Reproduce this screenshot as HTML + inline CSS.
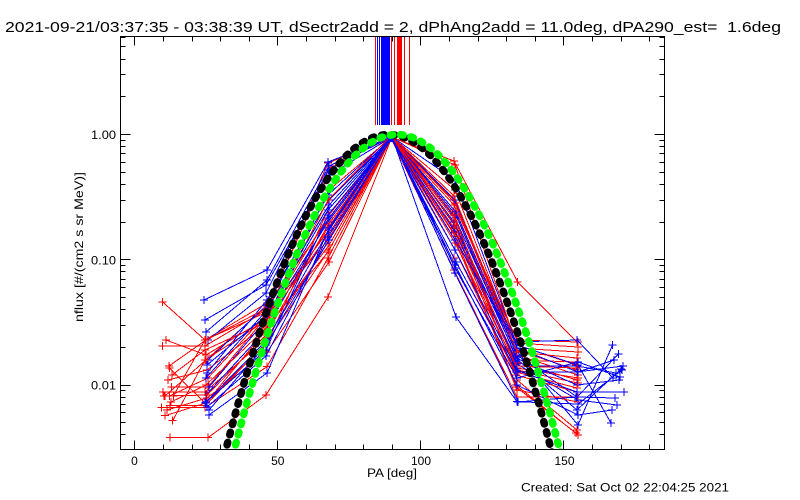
<!DOCTYPE html>
<html>
<head>
<meta charset="utf-8">
<style>
html,body{margin:0;padding:0;background:#fff;}
svg{display:block;}
text{font-family:"Liberation Sans",sans-serif;fill:#000;white-space:pre;}
</style>
</head>
<body>
<svg width="800" height="500" viewBox="0 0 800 500" xmlns="http://www.w3.org/2000/svg">
<defs>
<clipPath id="cp"><rect x="120.5" y="36" width="544" height="413.5"/></clipPath>
<marker id="mr" markerWidth="10" markerHeight="10" refX="5" refY="5" markerUnits="userSpaceOnUse" overflow="visible"><path d="M1 5H9M5 1V9" stroke="#ff0000" stroke-width="1" fill="none" shape-rendering="crispEdges"/></marker>
<marker id="mb" markerWidth="10" markerHeight="10" refX="5" refY="5" markerUnits="userSpaceOnUse" overflow="visible"><path d="M1 5H9M5 1V9" stroke="#0000ff" stroke-width="1" fill="none" shape-rendering="crispEdges"/></marker>
<path id="gc" d="M-164.1 455 L-162.5 449 -157.5 430 -153 413 -148.4 396.7 -143.6 380 -138.6 363.3 -133.5 346.6 -128.2 330 -122.5 313.3 -116.7 296.7 -110.5 280 -104 263.3 -97 246.6 -89.6 230 -81.2 213 -72.3 196.7 -67 188 -61.8 180 -56.1 172 -49.1 163.3 -42.5 156 -36.1 150 -29.7 145 -21.5 140 -16 137.6 -11.2 136 -5.5 134.9 0 134.5 5.5 134.9 11.2 136 16 137.6 21.5 140 29.7 145 36.1 150 42.5 156 49.1 163.3 56.1 172 61.8 180 67 188 72.3 196.7 81.2 213 89.6 230 97 246.6 104 263.3 110.5 280 116.7 296.7 122.5 313.3 128.2 330 133.5 346.6 138.6 363.3 143.6 380 148.4 396.7 153 413 157.5 430 162.5 449 164.1 455"/>
</defs>

<!-- Title -->
<text x="5" y="32" font-size="15" textLength="776" lengthAdjust="spacingAndGlyphs">2021-09-21/03:37:35 - 03:38:39 UT, dSectr2add = 2, dPhAng2add = 11.0deg, dPA290_est=  1.6deg</text>

<!-- vertical lines at top -->
<g shape-rendering="crispEdges">
<rect x="375" y="36" width="1" height="89" fill="#ff0000"/>
<rect x="377" y="36" width="1" height="89" fill="#0000ff"/>
<rect x="379" y="36" width="1" height="89" fill="#0000ff"/>
<rect x="381" y="36" width="9" height="89" fill="#0000ff"/>
<rect x="391" y="36" width="1" height="89" fill="#ff0000"/>
<rect x="394" y="36" width="1" height="89" fill="#ff0000"/>
<rect x="397" y="36" width="5" height="89" fill="#ff0000"/>
<rect x="404" y="36" width="1" height="89" fill="#ff0000"/>
<rect x="409" y="36" width="1" height="89" fill="#ff0000"/>
</g>

<!-- data lines -->
<g clip-path="url(#cp)" fill="none" stroke-width="1" shape-rendering="crispEdges">
<g stroke="#ff0000" marker-start="url(#mr)" marker-mid="url(#mr)" marker-end="url(#mr)">
<polyline points="162.7,302 205,340 267,303 328,163 391,137 454,161 517.7,282 577,342"/>
<polyline points="162.7,346 205,346 266,310 329,168 392,137 455,165 516,343 578,347"/>
<polyline points="169.3,368 205,403 267,343 328,210 391,138 454,200 517,345 576,365"/>
<polyline points="171.7,387 208,387 266,317 329,215 392,137 455,203 516,350 577,370"/>
<polyline points="165,396 206,360 267,306 328,220 391,136 454,210 517,355 578,375"/>
<polyline points="169.3,396 208,378 266,315 329,230 392,138 455,231 516,362 577,380"/>
<polyline points="173.3,396 205,340 267,312 328,240 391,137 454,233 517,370 578,383"/>
<polyline points="166,340 206,355 267,318 329,190 392,137 455,190 517,348 578,352"/>
<polyline points="168,380 207,370 266,325 328,228 391,137 454,228 516,360 577,362"/>
<polyline points="163,392 205,392 267,338 329,240 392,138 455,243 517,368 578,378"/>
</g>
<g stroke="#0000ff" marker-start="url(#mb)" marker-mid="url(#mb)" marker-end="url(#mb)">
<polyline points="204,300 267,270 328,162 392,137 455,180 517,345 578,365 611,423"/>
<polyline points="206,332 267,280 329,166 391,137 456,212 516,350 578,425 612.5,345"/>
<polyline points="208,340 266,293 328,170 392,136 455,218 517,355 577,397 618.5,354"/>
<polyline points="207,373 267,300 329,200 391,138 454,222 518,360 577,410 621,369"/>
<polyline points="209,387 266,320 328,222 392,137 455,232 517,366 577,366 616,373"/>
<polyline points="205,320 266,285 329,175 392,137 455,200 517,348 578,372 614,360"/>
<polyline points="208,360 267,305 328,195 391,137 456,215 516,358 577,385 619,380"/>
<polyline points="206,395 266,330 329,218 392,137 455,226 517,364 578,400 617,405"/>
</g>
<g stroke="#ff0000" marker-start="url(#mr)" marker-mid="url(#mr)" marker-end="url(#mr)">
<polyline points="170,405.7 205,405.7 266,343 329,250 392,137 455,250 516,375 577,392"/>
<polyline points="161.7,407.7 205,407.7 267,366.7 328,258 391,138 454,270 517,397 578,397"/>
<polyline points="165,415.7 206,403 266,330 329,245 392,136 455,225 516,387 576,433"/>
<polyline points="172.7,420.7 205,360 267,320 328,235 391,137 454,215 517,380 577,430"/>
<polyline points="170,437.7 208,437.7 266,395 328,297 392,137 455,240 516,385 578,435"/>
<polyline points="169,366 206,340 267,308 329,205 391,137 454,205 517,340 578,342"/>
<polyline points="164,396 207,395 266,335 328,225 392,138 455,220 516,366 577,368"/>
<polyline points="171,402 206,385 266,328 328,252 391,137 454,258 516,372 577,388"/>
<polyline points="167,410 207,398 267,352 329,262 392,137 455,236 517,390 578,402"/>
<polyline points="172,375 205,350 266,322 328,200 391,136 454,196 517,352 577,358"/>
</g>
<g stroke="#0000ff" marker-start="url(#mb)" marker-mid="url(#mb)" marker-end="url(#mb)">
<polyline points="206,402 267,340 329,230 391,137 456,262 516,370 577,392 624,392"/>
<polyline points="207,407 266,356 328,237 392,138 455,268 517,378 578,362 620,377"/>
<polyline points="209,415 267,373 329,228 391,136 455,273 518,402 576,397 615,398"/>
<polyline points="205,403 266,350 328,215 392,137 456,317 517,401.7 578,404 622,370"/>
<polyline points="206,378 267,310 329,205 391,137 455,240 516,342 577,340 613,378"/>
<polyline points="207,365 267,315 328,210 391,138 455,250 518,372 577,372 623,366"/>
<polyline points="209,410 266,345 329,240 392,137 455,265 517,385 578,415 612,410"/>
</g>
</g>

<!-- model curves -->
<g clip-path="url(#cp)" fill="none" stroke-width="7.5" stroke-linecap="round" stroke-linejoin="round" stroke-dasharray="2.5 8">
<use href="#gc" transform="translate(388.5,0)" stroke="#000000"/>
<use href="#gc" transform="translate(397,0)" stroke="#00ff00"/>
</g>

<!-- axes box -->
<g stroke="#000" stroke-width="1" fill="none" shape-rendering="crispEdges">
<rect x="120.5" y="36.5" width="544" height="413"/>
<path d="M134.5 449.5V440.5M277.5 449.5V440.5M420.5 449.5V440.5M563.5 449.5V440.5
M134.5 36.5V45.5M277.5 36.5V45.5M420.5 36.5V45.5M563.5 36.5V45.5"/>
<path d="M163.5 449.5V444.5M192.5 449.5V444.5M220.5 449.5V444.5M249.5 449.5V444.5M306.5 449.5V444.5M335.5 449.5V444.5M363.5 449.5V444.5M392.5 449.5V444.5M449.5 449.5V444.5M478.5 449.5V444.5M506.5 449.5V444.5M535.5 449.5V444.5M592.5 449.5V444.5M621.5 449.5V444.5M649.5 449.5V444.5
M163.5 36.5V41.5M192.5 36.5V41.5M220.5 36.5V41.5M249.5 36.5V41.5M306.5 36.5V41.5M335.5 36.5V41.5M363.5 36.5V41.5M392.5 36.5V41.5M449.5 36.5V41.5M478.5 36.5V41.5M506.5 36.5V41.5M535.5 36.5V41.5M592.5 36.5V41.5M621.5 36.5V41.5M649.5 36.5V41.5"/>
<path d="M120.5 134.5H130.5M120.5 259.5H130.5M120.5 385.5H130.5M664.5 134.5H654.5M664.5 259.5H654.5M664.5 385.5H654.5"/>
<path d="M120.5 37.5H125.5M120.5 46.5H125.5M120.5 59.5H125.5M120.5 74.5H125.5M120.5 96.5H125.5M120.5 140.5H125.5M120.5 146.5H125.5M120.5 153.5H125.5M120.5 162.5H125.5M120.5 172.5H125.5M120.5 184.5H125.5M120.5 200.5H125.5M120.5 222.5H125.5M120.5 265.5H125.5M120.5 271.5H125.5M120.5 279.5H125.5M120.5 287.5H125.5M120.5 297.5H125.5M120.5 309.5H125.5M120.5 325.5H125.5M120.5 347.5H125.5M120.5 390.5H125.5M120.5 397.5H125.5M120.5 404.5H125.5M120.5 412.5H125.5M120.5 422.5H125.5M120.5 434.5H125.5"/>
<path d="M664.5 37.5H659.5M664.5 46.5H659.5M664.5 59.5H659.5M664.5 74.5H659.5M664.5 96.5H659.5M664.5 140.5H659.5M664.5 146.5H659.5M664.5 153.5H659.5M664.5 162.5H659.5M664.5 172.5H659.5M664.5 184.5H659.5M664.5 200.5H659.5M664.5 222.5H659.5M664.5 265.5H659.5M664.5 271.5H659.5M664.5 279.5H659.5M664.5 287.5H659.5M664.5 297.5H659.5M664.5 309.5H659.5M664.5 325.5H659.5M664.5 347.5H659.5M664.5 390.5H659.5M664.5 397.5H659.5M664.5 404.5H659.5M664.5 412.5H659.5M664.5 422.5H659.5M664.5 434.5H659.5"/>
</g>

<!-- y tick labels -->
<text x="91" y="139" font-size="12" textLength="25" lengthAdjust="spacingAndGlyphs">1.00</text>
<text x="91" y="264.5" font-size="12" textLength="25" lengthAdjust="spacingAndGlyphs">0.10</text>
<text x="91" y="389.5" font-size="12" textLength="25" lengthAdjust="spacingAndGlyphs">0.01</text>

<!-- x tick labels -->
<text x="134.5" y="465" font-size="12" text-anchor="middle">0</text>
<text x="277.8" y="465" font-size="12" text-anchor="middle">50</text>
<text x="421" y="465" font-size="12" text-anchor="middle">100</text>
<text x="564.5" y="465" font-size="12" text-anchor="middle">150</text>

<!-- axis titles -->
<text x="367" y="477" font-size="12" textLength="50" lengthAdjust="spacingAndGlyphs">PA [deg]</text>
<text transform="translate(83,322) rotate(-90)" x="0" y="0" font-size="12" textLength="150" lengthAdjust="spacingAndGlyphs">nflux [#/(cm2 s sr MeV)]</text>

<!-- footer -->
<text x="521" y="491.5" font-size="12" textLength="208" lengthAdjust="spacingAndGlyphs">Created: Sat Oct 02 22:04:25 2021</text>
</svg>
</body>
</html>
